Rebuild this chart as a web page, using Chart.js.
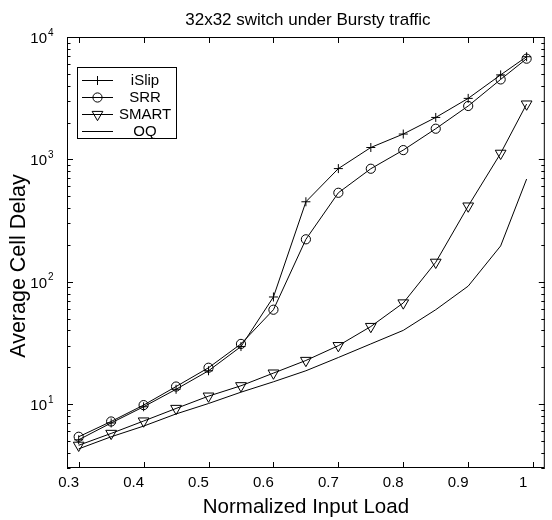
<!DOCTYPE html>
<html>
<head>
<meta charset="utf-8">
<script src="https://cdn.jsdelivr.net/npm/chart.js@4.4.1/dist/chart.umd.min.js"></script>
<style>
  html, body { margin: 0; padding: 0; background: #fff; }
</style>
</head>
<body>
<canvas id="chart" width="552" height="520"></canvas>
<script>
const loads = [0.30, 0.35, 0.40, 0.45, 0.50, 0.55, 0.60, 0.65, 0.70, 0.75, 0.80, 0.85, 0.90, 0.95, 0.99];
const islip = [5.1, 7.0, 9.5, 13.2, 18.7, 29.5, 75, 450, 840, 1250, 1610, 2200, 3150, 4900, 6900];
const srr   = [5.4, 7.2, 9.8, 13.9, 19.8, 31, 59, 222, 533, 838, 1190, 1780, 2730, 4500, 6650];
const smart = [4.6, 5.75, 7.26, 9.2, 11.6, 14.1, 17.9, 22.7, 30, 43, 67, 144, 415, 1120, 2830];
const oq    = [4.3, 5.4, 6.6, 8.3, 10.1, 12.5, 15.2, 18.7, 24, 31, 40, 59, 92, 196, 690];

const xTicks = [0.3, 0.4, 0.5, 0.6, 0.7, 0.8, 0.9, 1.0];
const yDecades = [10, 100, 1000, 10000];

const FONT = '"Liberation Sans", Arial, Helvetica, sans-serif';

function pts(vals) {
  return loads.map((x, i) => ({ x, y: vals[i] }));
}

function series(label, vals, style, r, rot) {
  return {
    label,
    data: pts(vals),
    borderColor: '#000',
    borderWidth: 1,
    backgroundColor: 'rgba(0,0,0,0)',
    pointStyle: style,
    pointRadius: r,
    pointRotation: rot || 0,
    pointBorderColor: '#000',
    pointBackgroundColor: 'rgba(0,0,0,0)',
    pointBorderWidth: 1,
    tension: 0,
    fill: false
  };
}

// little marker drawer for the legend
function marker(ctx, style, x, y) {
  ctx.beginPath();
  if (style === 'cross') {
    ctx.moveTo(x - 4.5, y); ctx.lineTo(x + 4.5, y);
    ctx.moveTo(x, y - 4.5); ctx.lineTo(x, y + 4.5);
  } else if (style === 'circle') {
    ctx.arc(x, y, 4.6, 0, Math.PI * 2);
  } else if (style === 'triangle') {
    const r = 6.2;
    ctx.moveTo(x, y + r);
    ctx.lineTo(x - r * Math.sin(Math.PI / 3), y - r / 2);
    ctx.lineTo(x + r * Math.sin(Math.PI / 3), y - r / 2);
    ctx.closePath();
  }
  ctx.stroke();
}

const frame = {
  id: 'frame',
  afterDraw(chart) {
    const { ctx, chartArea: a } = chart;
    const x = chart.scales.x, y = chart.scales.y;
    ctx.save();
    ctx.strokeStyle = '#000';
    ctx.fillStyle = '#000';
    ctx.lineWidth = 1;

    // box
    ctx.strokeRect(a.left + 0.5, a.top + 0.5, a.right - a.left - 1, a.bottom - a.top - 1);

    // inward ticks, mirrored
    ctx.beginPath();
    xTicks.forEach(v => {
      const px = Math.round(x.getPixelForValue(v)) + 0.5;
      ctx.moveTo(px, a.bottom); ctx.lineTo(px, a.bottom - 6);
      ctx.moveTo(px, a.top); ctx.lineTo(px, a.top + 6);
    });
    yDecades.forEach(d => {
      for (let m = 1; m < 10; m++) {
        const v = d / 10 * m;
        if (v < y.min || v > y.max) continue;
        const len = m === 1 ? 6 : 3.5;
        const py = Math.round(y.getPixelForValue(v)) + 0.5;
        ctx.moveTo(a.left, py); ctx.lineTo(a.left + len, py);
        ctx.moveTo(a.right, py); ctx.lineTo(a.right - len, py);
      }
    });
    const pTop = Math.round(y.getPixelForValue(y.max)) + 0.5;
    ctx.moveTo(a.left, pTop); ctx.lineTo(a.left + 6, pTop);
    ctx.moveTo(a.right, pTop); ctx.lineTo(a.right - 6, pTop);
    ctx.stroke();

    // y labels 10^n
    yDecades.forEach(d => {
      const py = y.getPixelForValue(d);
      ctx.font = '15px ' + FONT;
      ctx.textAlign = 'right';
      ctx.textBaseline = 'middle';
      ctx.fillText('10', a.left - 20, py + 2);
      ctx.font = '10px ' + FONT;
      ctx.textAlign = 'left';
      ctx.fillText(String(Math.round(Math.log10(d))), a.left - 19, py - 4);
    });

    // y axis title (a bit below the middle, like the original)
    ctx.save();
    ctx.translate(19, 266);
    ctx.rotate(-Math.PI / 2);
    ctx.font = '21.5px ' + FONT;
    ctx.textAlign = 'center';
    ctx.textBaseline = 'middle';
    ctx.fillText('Average Cell Delay', 0, 0);
    ctx.restore();

    // title
    ctx.font = '17px ' + FONT;
    ctx.textAlign = 'center';
    ctx.textBaseline = 'alphabetic';
    ctx.fillText('32x32 switch under Bursty traffic', (a.left + a.right) / 2 + 2, 25);

    // legend
    const lx = a.left + 10, ly = a.top + 30;
    ctx.strokeRect(lx + 0.5, ly + 0.5, 99, 71);
    ctx.font = '15px ' + FONT;
    ctx.textAlign = 'center';
    ctx.textBaseline = 'middle';
    chart.data.datasets.forEach((ds, i) => {
      const ry = Math.round(ly + 12.5 + i * 17) + 0.5;
      ctx.beginPath();
      ctx.moveTo(lx + 5, ry); ctx.lineTo(lx + 36, ry);
      ctx.stroke();
      if (ds.pointRadius > 0) marker(ctx, ds.pointStyle, lx + 20.5, ry);
      ctx.fillText(ds.label, lx + 68, ry);
    });
    ctx.restore();
  }
};

new Chart(document.getElementById('chart'), {
  type: 'line',
  data: {
    datasets: [
      series('iSlip', islip, 'cross', 4.5),
      series('SRR', srr, 'circle', 4.6),
      series('SMART', smart, 'triangle', 6.2, 180),
      series('OQ', oq, false, 0)
    ]
  },
  options: {
    responsive: false,
    animation: false,
    devicePixelRatio: 1,
    layout: { padding: { top: 37, right: 1, left: 0, bottom: 0 } },
    plugins: {
      legend: { display: false },
      tooltip: { enabled: false },
      title: { display: false }
    },
    scales: {
      x: {
        type: 'linear',
        min: 0.282,
        max: 1.018,
        grid: { display: false, drawTicks: false },
        border: { display: false },
        afterBuildTicks: s => { s.ticks = xTicks.map(v => ({ value: v })); },
        afterFit: s => { s.height = 52; },
        ticks: {
          color: '#000',
          font: { family: FONT, size: 15 },
          padding: 6,
          labelOffset: -10,
          maxRotation: 0,
          autoSkip: false,
          callback: v => String(Number(v.toFixed(2)))
        },
        title: {
          display: true,
          text: 'Normalized Input Load',
          color: '#000',
          font: { family: FONT, size: 20.5 },
          padding: { top: 0, bottom: 0.7 }
        }
      },
      y: {
        type: 'logarithmic',
        min: 3,
        max: 10000,
        grid: { display: false, drawTicks: false },
        border: { display: false },
        ticks: { display: false },
        afterFit: s => { s.width = 67; }
      }
    }
  },
  plugins: [frame]
});
</script>
</body>
</html>
